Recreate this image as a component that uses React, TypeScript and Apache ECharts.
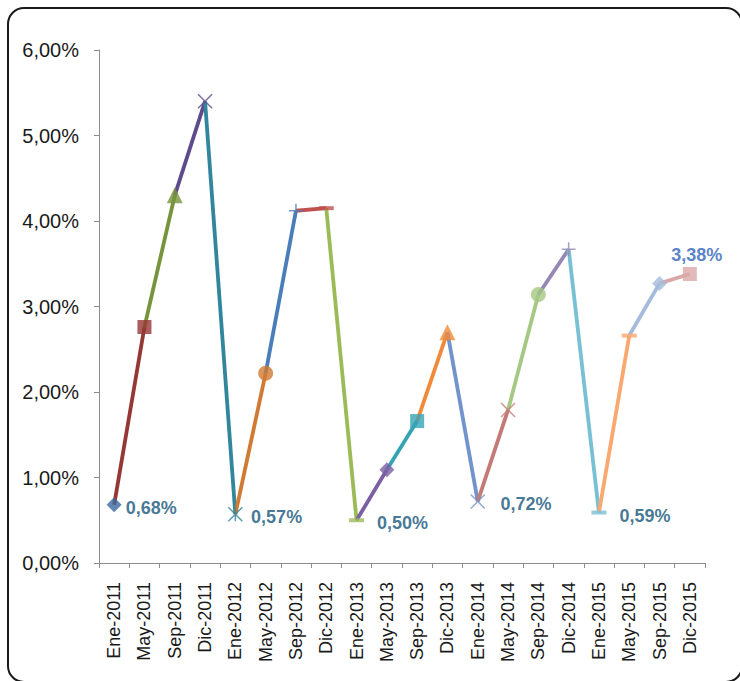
import React, { useEffect, useRef } from "react";
import * as echarts from "echarts";

const categories = [
  "Ene-2011", "May-2011", "Sep-2011", "Dic-2011",
  "Ene-2012", "May-2012", "Sep-2012", "Dic-2012",
  "Ene-2013", "May-2013", "Sep-2013", "Dic-2013",
  "Ene-2014", "May-2014", "Sep-2014", "Dic-2014",
  "Ene-2015", "May-2015", "Sep-2015", "Dic-2015",
];

const values = [
  0.68, 2.76, 4.3, 5.4,
  0.57, 2.22, 4.12, 4.15,
  0.5, 1.09, 1.66, 2.7,
  0.72, 1.79, 3.14, 3.67,
  0.59, 2.66, 3.27, 3.38,
];

const pointColors = [
  "#3A6AA0", "#953735", "#77933C", "#5F4B8B",
  "#31859C", "#D07A33", "#4A7EBB", "#C0504D",
  "#9BBB59", "#7B5FA3", "#36A3B5", "#F08A3A",
  "#7094CB", "#C57A77", "#A5C882", "#9787B5",
  "#78C0D4", "#F9A96F", "#A5BBDB", "#D9A9A7",
];

const X = "path://M0,0L10,10M10,0L0,10";
const STAR = "path://M0,0L10,10M10,0L0,10M5,0L5,10";
const PLUS = "path://M5,0L5,10M0,5L10,5";

const pointSymbols = [
  "diamond", "rect", "triangle", "x",
  "star", "circle", "plus", "dash",
  "dash", "diamond", "rect", "triangle",
  "x", "x", "circle", "plus",
  "dash", "dash", "diamond", "rect",
];

const labelled = [0, 4, 8, 12, 16, 19];

export default function App() {
  const ref = useRef<HTMLDivElement>(null);
  useEffect(() => {
    if (!ref.current) return;
    const chart = echarts.init(ref.current, null, { renderer: "svg" });

    const lineSeries = values.slice(1).map((_, k) => {
      const i = k + 1;
      const data = values.map((v, j) => (j === i - 1 || j === i ? v : null));
      return {
        type: "line",
        data,
        symbol: "none",
        connectNulls: false,
        lineStyle: { color: pointColors[i], width: 3.8 },
        z: 2,
        silent: true,
      };
    });

    const fmt = (v: number) => v.toFixed(2).replace(".", ",") + "%";

    const markerData = values.map((v, i) => {
      const s = pointSymbols[i];
      const c = pointColors[i];
      const item: any = { value: [i, v] };
      if (s === "x" || s === "star" || s === "plus") {
        item.symbol = s === "x" ? X : s === "star" ? STAR : PLUS;
        item.symbolSize = 14;
        item.itemStyle = { color: "rgba(0,0,0,0)", borderColor: c, borderWidth: 1.5 };
      } else if (s === "dash") {
        item.symbol = "rect";
        item.symbolSize = [15, 4];
        item.itemStyle = { color: c };
      } else {
        item.symbol = s;
        item.symbolSize = s === "circle" ? 15 : s === "triangle" ? 16 : s === "diamond" ? 15 : 14;
        item.itemStyle = { color: c };
      }
      if (labelled.includes(i)) {
        const last = i === values.length - 1;
        const offsets: Record<number, number[]> = {
          0: [-1, 3], 4: [3, 3], 8: [8, 3], 12: [10, 3], 16: [8, 3], 19: [7, 2],
        };
        item.label = {
          show: true,
          position: last ? "top" : "right",
          offset: offsets[i],
          formatter: () => fmt(v),
          color: last ? "#2E62B8" : "#13557A",
          fontFamily: "'Liberation Sans', Arial, sans-serif",
          fontWeight: "bold",
          fontSize: 18,
        };
      }
      return item;
    });

    chart.setOption({
      animation: false,
      graphic: [
        {
          type: "rect",
          shape: { x: 8, y: 8, width: 734, height: 674, r: 16 },
          style: { fill: "none", stroke: "#1a1a1a", lineWidth: 2 },
          z: 0,
        },
      ],
      grid: { left: 99, right: 35, top: 50, bottom: 118 },
      xAxis: {
        type: "category",
        data: categories,
        boundaryGap: true,
        axisLine: { lineStyle: { color: "#8c8c8c", width: 1 } },
        axisTick: { show: true, length: 5, alignWithLabel: false, lineStyle: { color: "#8c8c8c" } },
        axisLabel: {
          rotate: 90,
          interval: 0,
          margin: 19,
          color: "#1a1a1a",
          fontFamily: "'Liberation Sans', Arial, sans-serif",
          fontSize: 18,
        },
        splitLine: { show: false },
      },
      yAxis: {
        type: "value",
        min: 0,
        max: 6,
        interval: 1,
        axisLine: { show: true, lineStyle: { color: "#8c8c8c", width: 1 } },
        axisTick: { show: true, length: 5, lineStyle: { color: "#8c8c8c" } },
        axisLabel: {
          formatter: (v: number) => fmt(v),
          margin: 20,
          color: "#1a1a1a",
          fontFamily: "'Liberation Sans', Arial, sans-serif",
          fontSize: 20,
        },
        splitLine: { show: false },
      },
      series: [
        ...lineSeries,
        {
          type: "scatter",
          data: markerData,
          z: 5,
        },
      ],
    });
    return () => chart.dispose();
  }, []);

  return (
    <div
      ref={ref}
      style={{ position: "absolute", left: 0, top: 0, width: 740, height: 681, background: "#fff" }}
    />
  );
}
